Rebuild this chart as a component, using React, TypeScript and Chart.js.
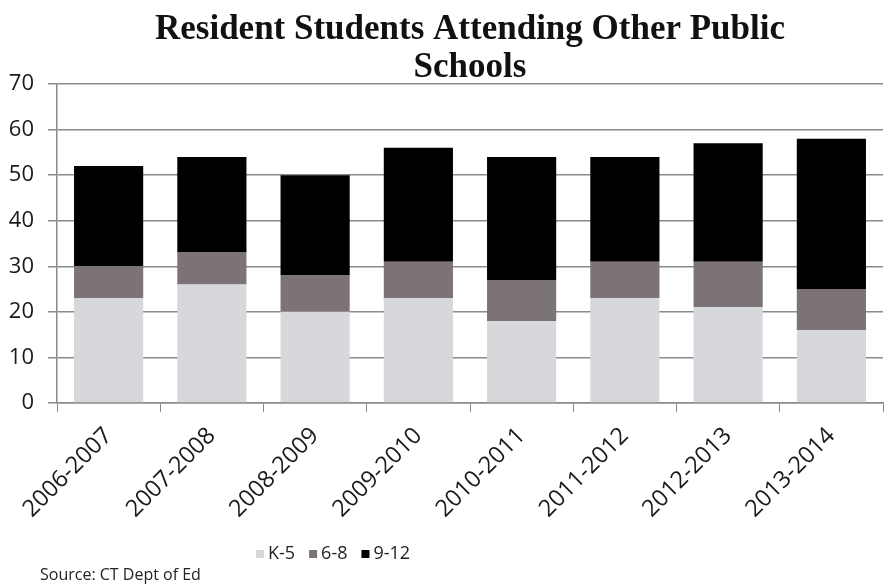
import React, { useEffect, useRef } from 'react';
import { Chart, registerables } from 'chart.js';

Chart.register(...registerables);

const categories = ['2006-2007', '2007-2008', '2008-2009', '2009-2010', '2010-2011', '2011-2012', '2012-2013', '2013-2014'];
const seriesLabels = ['K-5', '6-8', '9-12'];
const k5Values = [23, 26, 20, 23, 18, 23, 21, 16];
const g68Values = [7, 7, 8, 8, 9, 8, 10, 9];
const g912Values = [22, 21, 22, 25, 27, 23, 26, 33];
const yMin = 0;
const yMax = 70;
const yStep = 10;
const titleLines = ['Resident Students Attending Other Public', 'Schools'];
const sourceText = 'Source: CT Dept of Ed';

const colors = ['#d6d8db', '#7c7379', '#000000'];
const FONT = '"Open Sans", "DejaVu Sans", sans-serif';

const legendPlugin = {
  id: 'customLegendAndSource',
  afterDraw(chart: any) {
    const ctx = chart.ctx;
    ctx.save();
    ctx.font = `18px ${FONT}`;
    ctx.textBaseline = 'middle';
    let x = 256;
    const y = 554;
    chart.data.datasets.forEach((ds: any) => {
      ctx.fillStyle = ds.backgroundColor;
      ctx.fillRect(x, y - 4, 8, 8);
      x += 12;
      ctx.fillStyle = '#222';
      ctx.fillText(ds.label, x, y);
      x += ctx.measureText(ds.label).width + 14;
    });
    ctx.font = `16px ${FONT}`;
    ctx.fillStyle = '#222';
    ctx.fillText(sourceText, 40, 575);
    ctx.restore();
  },
};

export default function App() {
  const canvasRef = useRef<HTMLCanvasElement>(null);

  useEffect(() => {
    if (!canvasRef.current) return;
    const chart = new Chart(canvasRef.current, {
      type: 'bar',
      data: {
        labels: categories,
        datasets: [
          { label: seriesLabels[0], data: k5Values, backgroundColor: colors[0] },
          { label: seriesLabels[1], data: g68Values, backgroundColor: colors[1] },
          { label: seriesLabels[2], data: g912Values, backgroundColor: colors[2] },
        ],
      },
      options: {
        responsive: false,
        animation: false,
        layout: { padding: { left: 0, right: 8, top: 0, bottom: 0 } },
        datasets: {
          bar: { categoryPercentage: 1, barPercentage: 0.67 },
        },
        plugins: {
          legend: { display: false },
          tooltip: { enabled: false },
          title: {
            display: true,
            text: titleLines,
            fullSize: false,
            color: '#111',
            font: { family: '"Liberation Serif", serif', size: 35, weight: 'bold', lineHeight: 1.086 },
            padding: { top: 11, bottom: -3 },
          },
        },
        scales: {
          x: {
            stacked: true,
            afterFit: (scale: any) => { scale.height = 183; },
            grid: {
              display: true,
              offset: true,
              drawOnChartArea: false,
              drawTicks: true,
              tickLength: 9,
              color: '#8a8a8a',
            },
            border: { display: true, color: '#8a8a8a', width: 1.5 },
            ticks: {
              minRotation: 45,
              maxRotation: 45,
              padding: 10,
              color: '#1a1a1a',
              font: { family: FONT, size: 23.5 },
            },
          },
          y: {
            stacked: true,
            min: yMin,
            max: yMax,
            afterFit: (scale: any) => { scale.width = 57; },
            grid: {
              color: '#8a8a8a',
              lineWidth: 1.5,
              drawTicks: true,
              tickLength: 9,
            },
            border: { display: true, color: '#8a8a8a', width: 1.5 },
            ticks: {
              stepSize: yStep,
              padding: 14,
              color: '#1a1a1a',
              font: { family: FONT, size: 22 },
            },
          },
        },
      },
      plugins: [legendPlugin],
    });
    return () => chart.destroy();
  }, []);

  return (
    <div style={{ position: 'fixed', left: 0, top: 0, width: 891, height: 586, background: '#fff' }}>
      <canvas ref={canvasRef} width={891} height={586} />
    </div>
  );
}
